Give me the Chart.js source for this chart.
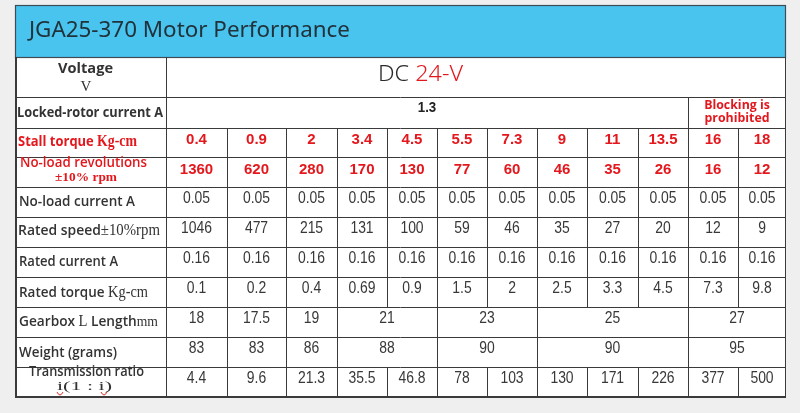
<!DOCTYPE html>
<html><head><meta charset="utf-8">
<script src="https://cdn.jsdelivr.net/npm/chart.js@4.4.1/dist/chart.umd.min.js"></script>
<style>html,body{margin:0;padding:0;background:#efefef;overflow:hidden}canvas{display:block}</style>
</head><body>
<canvas id="c" width="800" height="413"></canvas>
<script>
// ---------- DATA ----------
const title = "JGA25-370 Motor Performance";
const voltagePrefix = "DC ";
const voltageValue = "24-V";
const lockedRotor = ["1.3", "Blocking is\nprohibited"];
const lockedRotorSpans = [10, 2];
const stallTorque = ["0.4","0.9","2","3.4","4.5","5.5","7.3","9","11","13.5","16","18"];
const noLoadRpm = ["1360","620","280","170","130","77","60","46","35","26","16","12"];
const noLoadCurrent = ["0.05","0.05","0.05","0.05","0.05","0.05","0.05","0.05","0.05","0.05","0.05","0.05"];
const ratedSpeed = ["1046","477","215","131","100","59","46","35","27","20","12","9"];
const ratedCurrent = ["0.16","0.16","0.16","0.16","0.16","0.16","0.16","0.16","0.16","0.16","0.16","0.16"];
const ratedTorque = ["0.1","0.2","0.4","0.69","0.9","1.5","2","2.5","3.3","4.5","7.3","9.8"];
const gearboxLength = ["18","17.5","19","21","23","25","27"];
const gearboxSpans = [1,1,1,2,2,3,2];
const weightGrams = ["83","83","86","88","90","90","95"];
const weightSpans = [1,1,1,2,2,3,2];
const transmissionRatio = ["4.4","9.6","21.3","35.5","46.8","78","103","130","171","226","377","500"];
const ones12 = [1,1,1,1,1,1,1,1,1,1,1,1];

// ---------- LAYOUT / STYLE ----------
const colEdges = [15,166,227,286,337,387,437,487,537,587,638,688,738,786];
const rowEdges = [5,57,97,128,157,187,217,247,277,307,337,367,397];
const RED = "#e3171c", DARK = "#333333", LINE = "#3a3a3a";
const SANS = "'Liberation Sans', Arial, sans-serif";
const LBL = "'Open Sans', 'Noto Sans', sans-serif";
const SERIF = "'Liberation Serif', 'DejaVu Serif', serif";

const S = (t, f, c) => ({t, f, c});
const labelLines = [
  {seg:[S("Voltage","700 15px "+LBL,DARK)], x0:58, x1:113, y:69},
  {seg:[S("V","15px "+SERIF,DARK)], cx:86, y:87},
  {seg:[S("Locked-rotor current A","700 14px "+LBL,DARK)], x0:17, x1:163, y:113},
  {seg:[S("Stall torque ","700 15px "+LBL,RED),S("Kg-cm","700 16px "+SERIF,RED)], x0:18, x1:137, y:142},
  {seg:[S("No-load revolutions","600 15px "+LBL,RED)], x0:20, x1:147, y:163},
  {seg:[S("±10% rpm","700 13px "+SERIF,RED)], x0:55, x1:117, y:178},
  {seg:[S("No-load current A","600 15px "+LBL,DARK)], x0:19, x1:135, y:202},
  {seg:[S("Rated speed","600 15px "+LBL,DARK),S("±10%rpm","16px "+SERIF,DARK)], x0:18, x1:160, y:231},
  {seg:[S("Rated current A","600 15px "+LBL,DARK)], x0:19, x1:118, y:262},
  {seg:[S("Rated torque ","600 15px "+LBL,DARK),S("Kg-cm","16px "+SERIF,DARK)], x0:19, x1:148, y:293},
  {seg:[S("Gearbox ","600 15px "+LBL,DARK),S("L","16px "+SERIF,DARK),S(" Length","600 15px "+LBL,DARK),S("mm","15px "+SERIF,DARK)], x0:19, x1:158, y:322},
  {seg:[S("Weight (grams)","600 15px "+LBL,DARK)], x0:19, x1:117, y:353},
  {seg:[S("Transmission ratio","600 15px "+LBL,DARK)], x0:29, x1:144, y:372},
  {seg:[S("i(1 : i)","13px "+SERIF,DARK)], x0:57, x1:112, y:387}
];

const tableRows = [
  {r:2, vals:lockedRotor, spans:lockedRotorSpans, kind:"locked"},
  {r:3, vals:stallTorque, spans:ones12, kind:"red"},
  {r:4, vals:noLoadRpm, spans:ones12, kind:"red"},
  {r:5, vals:noLoadCurrent, spans:ones12},
  {r:6, vals:ratedSpeed, spans:ones12},
  {r:7, vals:ratedCurrent, spans:ones12},
  {r:8, vals:ratedTorque, spans:ones12},
  {r:9, vals:gearboxLength, spans:gearboxSpans},
  {r:10, vals:weightGrams, spans:weightSpans},
  {r:11, vals:transmissionRatio, spans:ones12}
];

function drawSegs(ctx, segs, x, y, sx, align) {
  let w = 0;
  segs.forEach(s => { ctx.font = s.f; w += ctx.measureText(s.t).width; });
  ctx.save();
  ctx.translate(x, y);
  ctx.scale(sx, 1);
  let cx = align === "center" ? -w/2 : 0;
  ctx.textBaseline = "middle"; ctx.textAlign = "left";
  segs.forEach(s => { ctx.font = s.f; ctx.fillStyle = s.c; ctx.fillText(s.t, cx, 0); cx += ctx.measureText(s.t).width; });
  ctx.restore();
  return w;
}
function measure(ctx, segs) { let w = 0; segs.forEach(s => { ctx.font = s.f; w += ctx.measureText(s.t).width; }); return w; }

const tablePlugin = {
  id: "table",
  beforeDraw(chart) {
    const ctx = chart.ctx, xs = chart.scales.x, ys = chart.scales.y;
    const X = v => xs.getPixelForValue(v), Y = v => ys.getPixelForValue(v);
    ctx.save();
    ctx.fillStyle = "#efefef"; ctx.fillRect(0, 0, chart.width, chart.height);
    const L = X(colEdges[0]), R = X(colEdges[colEdges.length-1]);
    ctx.fillStyle = "#ffffff";
    ctx.fillRect(L, Y(rowEdges[1]), R-L, Y(rowEdges[rowEdges.length-1]) - Y(rowEdges[1]));
    ctx.fillStyle = "#48c4ee";
    ctx.fillRect(L, Y(rowEdges[0]), R-L, Y(rowEdges[1]) - Y(rowEdges[0]));
    ctx.strokeStyle = "#3e4c56"; ctx.lineWidth = 1.2;
    ctx.strokeRect(L+0.5, Y(rowEdges[0])+0.5, R-L-1, Y(rowEdges[1]) - Y(rowEdges[0]));
    ctx.font = "400 21px 'Noto Sans', sans-serif";
    const tw = ctx.measureText(title).width;
    ctx.save(); ctx.translate(X(29), Y(31)); ctx.scale(321/tw, 1);
    ctx.fillStyle = "#22323b"; ctx.textBaseline = "middle"; ctx.textAlign = "left";
    ctx.fillText(title, 0, 0); ctx.restore();

    ctx.strokeStyle = LINE; ctx.lineWidth = 1;
    const hline = (y, a, b) => { ctx.beginPath(); ctx.moveTo(X(a), Math.round(Y(y))+0.5); ctx.lineTo(X(b), Math.round(Y(y))+0.5); ctx.stroke(); };
    const vline = (x, a, b) => { ctx.beginPath(); ctx.moveTo(Math.round(X(x))+0.5, Y(a)); ctx.lineTo(Math.round(X(x))+0.5, Y(b)); ctx.stroke(); };
    for (let i = 2; i < rowEdges.length - 1; i++) hline(rowEdges[i], colEdges[0], colEdges[colEdges.length-1]);
    vline(colEdges[1], rowEdges[1], rowEdges[rowEdges.length-1]);
    vline(colEdges[colEdges.length-1] - 1, rowEdges[1], rowEdges[rowEdges.length-1]);
    ctx.lineWidth = 2;
    ctx.beginPath(); ctx.moveTo(X(colEdges[0])+1, Y(rowEdges[1])); ctx.lineTo(X(colEdges[0])+1, Y(rowEdges[rowEdges.length-1])); ctx.stroke();
    ctx.beginPath(); ctx.moveTo(X(colEdges[0]), Y(rowEdges[rowEdges.length-1])); ctx.lineTo(X(colEdges[colEdges.length-1]), Y(rowEdges[rowEdges.length-1])); ctx.stroke();
    ctx.lineWidth = 1;
    tableRows.forEach(row => {
      let c = 1;
      row.spans.forEach((sp, k) => {
        const c2 = c + sp;
        if (k < row.spans.length - 1) vline(colEdges[c2], rowEdges[row.r], rowEdges[row.r+1]);
        c = c2;
      });
    });

    labelLines.forEach(l => {
      const w = measure(ctx, l.seg);
      if (l.cx !== undefined) drawSegs(ctx, l.seg, X(l.cx), Y(l.y), 1, "center");
      else drawSegs(ctx, l.seg, X(l.x0), Y(l.y), (X(l.x1) - X(l.x0)) / w, "left");
    });

    const vSeg = [S(voltagePrefix, "300 21px 'Noto Sans', sans-serif", "#2a2a2a"), S(voltageValue, "300 21px 'Noto Sans', sans-serif", RED)];
    const vw = measure(ctx, vSeg);
    drawSegs(ctx, vSeg, X(378), Y(75), (X(463) - X(378)) / vw, "left");

    tableRows.forEach(row => {
      let c = 1;
      const yc = (rowEdges[row.r] + rowEdges[row.r+1]) / 2;
      row.spans.forEach((sp, k) => {
        const c2 = c + sp;
        const xc = (colEdges[c] + colEdges[c2]) / 2;
        const v = row.vals[k];
        if (row.kind === "locked") {
          if (k === 0) drawSegs(ctx, [S(v, "700 14px "+SANS, "#222")], X(xc), Y(yc - 4), 0.95, "center");
          else v.split("\n").forEach((ln, j) => drawSegs(ctx, [S(ln, "700 13px "+LBL, RED)], X(xc), Y(105 + j*13), 0.95, "center"));
        } else if (row.kind === "red") {
          drawSegs(ctx, [S(v, "700 15px "+SANS, RED)], X(xc), Y(yc - 2.5), 1, "center");
        } else {
          drawSegs(ctx, [S(v, "400 16px "+SANS, "#383838")], X(xc), Y(yc - 3), 0.87, "center");
        }
        c = c2;
      });
    });

    ctx.strokeStyle = "#e0302c"; ctx.lineWidth = 1;
    [60, 104].forEach(x => {
      ctx.beginPath(); ctx.moveTo(X(x-3), Y(392)); ctx.quadraticCurveTo(X(x), Y(398), X(x+3), Y(392)); ctx.stroke();
    });
    ctx.restore();
  }
};

new Chart(document.getElementById("c"), {
  type: "scatter",
  data: { datasets: [{ data: [], pointRadius: 0 }] },
  options: {
    responsive: false, animation: false, devicePixelRatio: 1,
    layout: { padding: 0 },
    plugins: { legend: { display: false }, tooltip: { enabled: false } },
    scales: {
      x: { type: "linear", min: 0, max: 800, display: false },
      y: { type: "linear", min: 0, max: 413, reverse: true, display: false }
    }
  },
  plugins: [tablePlugin]
});
</script>
</body></html>
